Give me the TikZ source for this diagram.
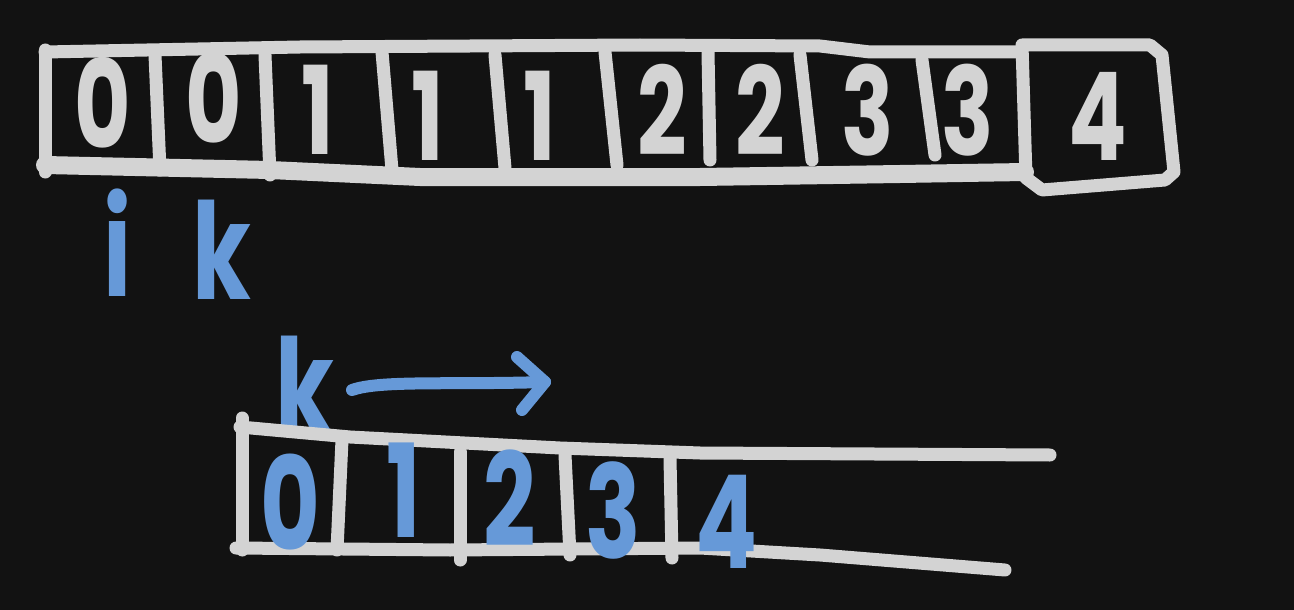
\documentclass[tikz,border=0pt]{standalone}
\usepackage{fontspec}
\newfontfamily\hand{Poppins}
\definecolor{bg}{HTML}{121212}
\definecolor{chalk}{HTML}{D3D3D3}
\definecolor{ink}{HTML}{6699D8}
\newcommand{\tall}[1]{\scalebox{0.85}[1.2]{#1}}
\tikzset{
  chalkline/.style={draw=chalk,line width=13pt,line cap=round,line join=round},
  inkline/.style={draw=ink,line width=12pt,line cap=round,line join=round},
  gdigit/.style={text=chalk,font=\hand\bfseries\fontsize{102}{102}\selectfont,inner sep=0pt},
  bdigit/.style={text=ink,font=\hand\bfseries\fontsize{108}{108}\selectfont,inner sep=0pt},
  blabel/.style={text=ink,font=\hand\bfseries\fontsize{112}{112}\selectfont,inner sep=0pt}
}
\begin{document}
\begin{tikzpicture}[x=1pt,y=-1pt]
\fill[bg] (0,0) rectangle (1294,610);
\useasboundingbox (0,0) rectangle (1294,610);
% top array
\draw[chalkline] (45,52) -- (300,47) -- (640,45) -- (820,46) -- (870,52) -- (1020,52);
\draw[chalkline] (45,50) -- (45,172);
\draw[chalkline,line width=18pt] (45,165) -- (270,170) -- (420,177) -- (700,177) -- (900,174) -- (1025,172);
\draw[chalkline] (155,55) -- (160,170);
\draw[chalkline] (265,55) -- (270,175);
\draw[chalkline] (382,52) -- (392,170);
\draw[chalkline] (495,55) -- (505,168);
\draw[chalkline] (605,52) -- (617,165);
\draw[chalkline] (708,52) -- (710,160);
\draw[chalkline] (800,55) -- (812,160);
\draw[chalkline] (922,60) -- (935,155);
\draw[chalkline] (1022,45) -- (1026,178) -- (1042,190) -- (1165,180) -- (1174,172) -- (1162,55) -- (1150,45) -- cycle;
\node[gdigit] (t0) at (103,103) {\tall{0}};
\node[gdigit] (t1) at (214,98) {\tall{0}};
\node[gdigit] (t2) at (318,110) {\tall{1}};
\node[gdigit] (t3) at (428,116) {\tall{1}};
\node[gdigit] (t4) at (540,116) {\tall{1}};
\node[gdigit] (t5) at (662,110) {\tall{2}};
\node[gdigit] (t6) at (760,110) {\tall{2}};
\node[gdigit] (t7) at (868,110) {\tall{3}};
\node[gdigit] (t8) at (968,110) {\tall{3}};
\node[gdigit] (t9) at (1098,116) {\tall{4}};
% labels
\node[blabel] (li) at (118,243) {\tall{i}};
\node[blabel] (lk) at (222,250) {\tall{k}};
\node[blabel] (lk2) at (305,386) {\tall{k}};
\coordinate (as) at (352,390);
\coordinate (ae) at (545,382);
\draw[inkline] (as) .. controls (380,380) and (450,385) .. (ae);
\draw[inkline] (517,357) -- (ae) -- (522,410);
% bottom array
\draw[chalkline] (242,418) -- (242,550);
\draw[chalkline] (240,427) -- (350,437) -- (560,448) -- (700,453) -- (1050,455);
\draw[chalkline] (236,548) -- (450,550) -- (700,548) -- (820,555) -- (1005,570);
\draw[chalkline] (342,440) -- (337,550);
\draw[chalkline] (460,452) -- (460,560);
\draw[chalkline] (565,455) -- (570,555);
\draw[chalkline] (670,458) -- (672,558);
\node[bdigit] (b0) at (290,502) {\tall{0}};
\node[bdigit] (b1) at (404,490) {\tall{1}};
\node[bdigit] (b2) at (510,498) {\tall{2}};
\node[bdigit] (b3) at (613,510) {\tall{3}};
\node[bdigit] (b4) at (727,522) {\tall{4}};
\end{tikzpicture}
\end{document}
